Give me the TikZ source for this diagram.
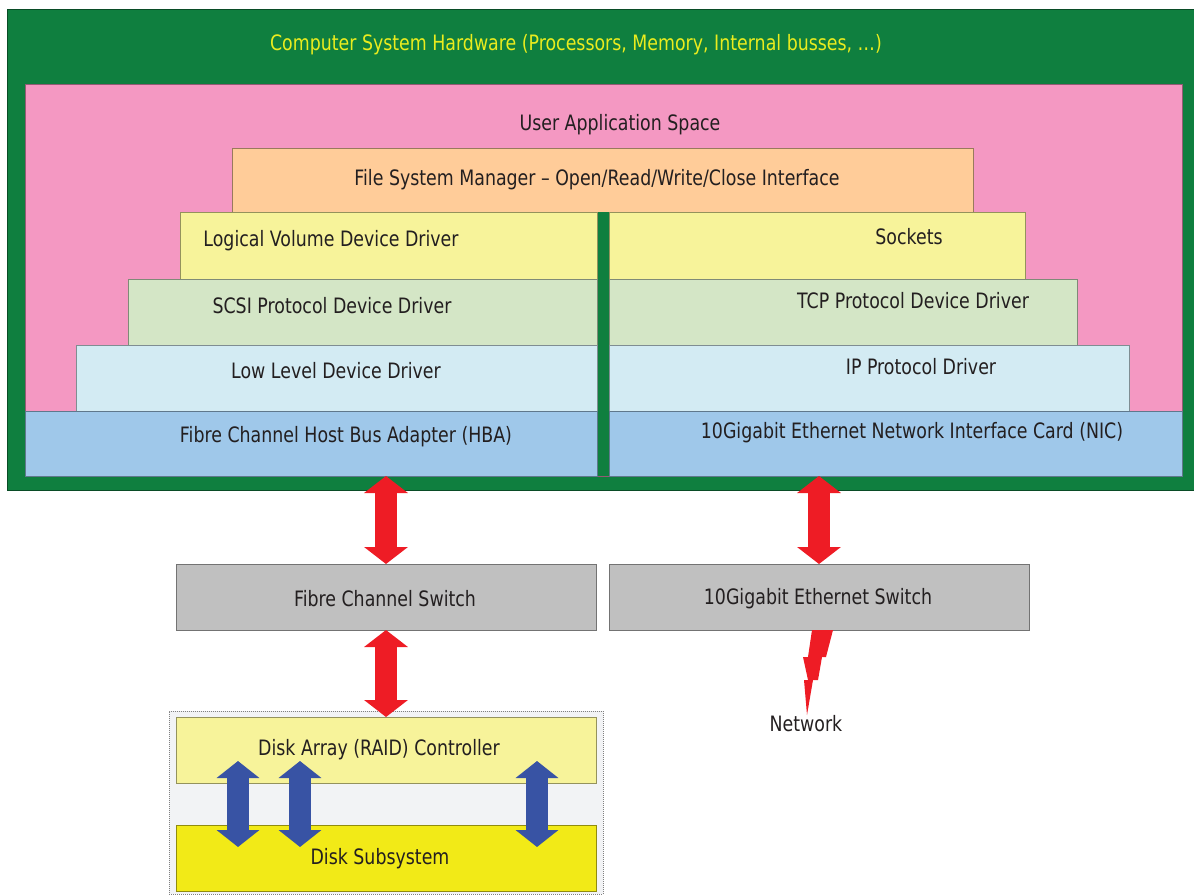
\documentclass[tikz,border=0pt]{standalone}
\usepackage{fontspec}
\setmainfont{DejaVu Sans}[FakeStretch=0.82]
\usetikzlibrary{arrows.meta}

\definecolor{hwgreen}{HTML}{0F7F3F}
\definecolor{apppink}{HTML}{F498C2}
\definecolor{fsmorange}{HTML}{FFCC99}
\definecolor{drvyellow}{HTML}{F7F39A}
\definecolor{protgreen}{HTML}{D4E6C6}
\definecolor{lowblue}{HTML}{D3EBF3}
\definecolor{hbablue}{HTML}{9FC8EA}
\definecolor{swgray}{HTML}{C0C0C0}
\definecolor{arrred}{HTML}{EE1C25}
\definecolor{arrblue}{HTML}{3853A4}
\definecolor{diskyellow}{HTML}{F2EA17}
\definecolor{bggray}{HTML}{F2F3F5}
\definecolor{txtgray}{HTML}{231F20}
\definecolor{titleyellow}{HTML}{EAEC1E}

\tikzset{
  layer/.style={draw=#1!60!black, fill=#1, line width=0.8pt, anchor=north west,
                inner sep=0pt, outer sep=0pt},
  txt/.style={text=txtgray, font=\fontsize{21.2}{25}\selectfont, inner sep=0pt},
  redarrow/.style={draw=arrred, line width=22pt,
                   {Triangle[width=43pt,length=17pt]}-{Triangle[width=43pt,length=17pt]}},
  bluearrow/.style={draw=arrblue, line width=22pt,
                   {Triangle[width=42pt,length=17pt]}-{Triangle[width=42pt,length=17pt]}},
}

\begin{document}
\begin{tikzpicture}[x=1pt,y=-1pt]
  \useasboundingbox (0,0) rectangle (1194,895);

  % host
  \node[layer=hwgreen, minimum width=1190, minimum height=481] (hw)  at (7,9)    {};
  \node[layer=apppink, minimum width=1157, minimum height=392] (app) at (25,84)  {};
  \node[layer=fsmorange, minimum width=741, minimum height=64] (fsm) at (232,148) {};
  \fill[hwgreen] (597,212) rectangle (609,476);

  % storage stack
  \node[layer=drvyellow, minimum width=417, minimum height=67] (lvdd) at (180,212) {};
  \node[layer=protgreen, minimum width=469, minimum height=66] (scsi) at (128,279) {};
  \node[layer=lowblue,   minimum width=521, minimum height=66] (lldd) at (76,345)  {};
  \node[layer=hbablue,   minimum width=572, minimum height=65] (hba)  at (25,411)  {};

  % network stack
  \node[layer=drvyellow, minimum width=416, minimum height=67] (sock) at (609,212) {};
  \node[layer=protgreen, minimum width=468, minimum height=66] (tcp)  at (609,279) {};
  \node[layer=lowblue,   minimum width=520, minimum height=66] (ip)   at (609,345) {};
  \node[layer=hbablue,   minimum width=573, minimum height=65] (nic)  at (609,411) {};

  % switches
  \node[layer=swgray, minimum width=420, minimum height=66] (fcsw)  at (176,564) {};
  \node[layer=swgray, minimum width=420, minimum height=66] (ethsw) at (609,564) {};

  % disk array
  \node[draw=gray, dash pattern=on 1pt off 1pt, fill=bggray, line width=0.6pt,
        anchor=north west, minimum width=434, minimum height=183] (array) at (169,711) {};
  \node[layer=drvyellow,  minimum width=420, minimum height=66] (raid) at (176,717) {};
  \node[layer=diskyellow, minimum width=420, minimum height=66] (disk) at (176,825) {};

  % labels
  \node[txt, text=titleyellow] (hwt) at (576,45)  {Computer System Hardware (Processors, Memory, Internal busses, \dots)};
  \node[txt] (appt)  at (620,125) {User Application Space};
  \node[txt] (fsmt)  at (597,180) {File System Manager -- Open/Read/Write/Close Interface};
  \node[txt] (lvddt) at (331,241) {Logical Volume Device Driver};
  \node[txt] (scsit) at (332,306) {SCSI Protocol Device Driver};
  \node[txt] (llddt) at (336,371) {Low Level Device Driver};
  \node[txt] (hbat)  at (346,437) {Fibre Channel Host Bus Adapter (HBA)};
  \node[txt] (sockt) at (909,237) {Sockets};
  \node[txt] (tcpt)  at (913,301) {TCP Protocol Device Driver};
  \node[txt] (ipt)   at (921,367) {IP Protocol Driver};
  \node[txt] (nict)  at (912,433) {10Gigabit Ethernet Network Interface Card (NIC)};
  \node[txt] (fcswt) at (385,599) {Fibre Channel Switch};
  \node[txt] (ethswt) at (818,599) {10Gigabit Ethernet Switch};
  \node[txt] (raidt) at (379,750) {Disk Array (RAID) Controller};
  \node[txt] (diskt) at (380,859) {Disk Subsystem};
  \node[txt] (net)   at (806,724) {Network};

  % links
  \draw[redarrow] (hba.south -| fcsw.north) -- (fcsw.north);
  \draw[redarrow] (nic.south -| ethsw.north) -- (ethsw.north);
  \draw[redarrow] (fcsw.south) -- (raid.north);
  \foreach \dx in {62,124,361}
    \draw[bluearrow] ([shift={(\dx,-22)}]raid.south west) -- ([shift={(\dx,22)}]disk.north west);

  % lightning
  \fill[arrred] (812,630) -- (833,630) -- (826,657) -- (822,657) -- (818,680)
    -- (813,680) -- (807,715) -- (804,680) -- (808,680) -- (803,657)
    -- (808,657) -- cycle;
\end{tikzpicture}
\end{document}
